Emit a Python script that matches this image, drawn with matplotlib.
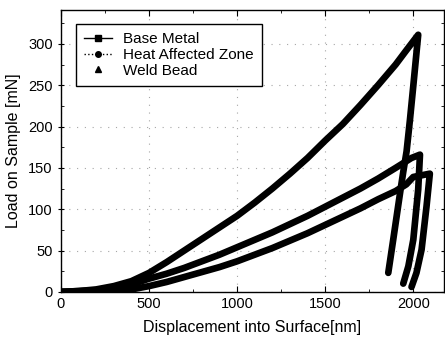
import matplotlib
matplotlib.use("Agg")
import matplotlib.pyplot as plt
from matplotlib.lines import Line2D
from matplotlib.ticker import MultipleLocator

plt.rcParams['font.family'] = ['Liberation Sans', 'DejaVu Sans']

# Base Metal: loading, unloading
base_x = [0, 100, 200, 300, 400, 500, 600, 700, 800, 900, 1000, 1100, 1200, 1300, 1400, 1500,
          1600, 1700, 1800, 1900, 1960, 2028,
          2000, 1981, 1962, 1943, 1928, 1886, 1858]
base_y = [0, 1, 3, 7, 13, 23, 36, 50, 64, 78, 92, 108, 125, 143, 162, 183,
          203, 226, 250, 275, 292, 311,
          249, 208, 170, 145, 124, 63, 23]

# Heat Affected Zone: loading, hold, unloading
haz_x = [0, 200, 300, 400, 500, 600, 700, 800, 900, 1000, 1100, 1200, 1300, 1400, 1500,
         1600, 1700, 1800, 1900, 1990,
         2038, 2028, 2000, 1972, 1943]
haz_y = [0, 2, 4, 9, 16, 22, 29, 37, 45, 54, 63, 72, 82, 92, 103,
         114, 125, 137, 150, 162,
         166, 124, 63, 31, 10]

# Weld Bead: loading, hold, unloading
weld_x = [0, 200, 300, 400, 500, 600, 700, 800, 900, 1000, 1100, 1200, 1300, 1400, 1500,
          1600, 1700, 1800, 1900, 1960, 2000,
          2094, 2075, 2047, 2018, 1990]
weld_y = [0, 0, 1, 3, 7, 12, 18, 24, 30, 37, 45, 53, 62, 71, 81,
          91, 101, 112, 122, 130, 139,
          143, 103, 51, 23, 6]

series_names = ["Base Metal", "Heat Affected Zone", "Weld Bead"]

fig = plt.figure(figsize=(4.45, 3.43), dpi=100)
ax = fig.add_axes([0.137, 0.149, 0.861, 0.822])

for xs, ys in [(base_x, base_y), (haz_x, haz_y), (weld_x, weld_y)]:
    ax.plot(xs, ys, color='black', lw=4.8, solid_joinstyle='round', solid_capstyle='round')

ax.set_xlim(0, 2175)
ax.set_ylim(0, 341)
ax.xaxis.set_major_locator(MultipleLocator(500))
ax.xaxis.set_minor_locator(MultipleLocator(250))
ax.yaxis.set_major_locator(MultipleLocator(50))
ax.yaxis.set_minor_locator(MultipleLocator(25))
ax.tick_params(which='both', direction='in', top=True, right=True, labelsize=10.5)
ax.tick_params(axis='y', which='major', direction='inout', length=5)
ax.tick_params(axis='x', which='major', length=4)
ax.tick_params(which='minor', length=2.5)
ax.grid(True, which='major', linestyle=(0, (1, 6)), color='0.65', lw=0.8)
for s in ax.spines.values():
    s.set_linewidth(1.0)

ax.set_xlabel("Displacement into Surface[nm]", fontsize=11.5, labelpad=7)
ax.set_ylabel("Load on Sample [mN]", fontsize=11.5, labelpad=5)

handles = [
    Line2D([], [], color='black', ls='-', marker='s', ms=4, lw=1.0),
    Line2D([], [], color='black', ls=':', marker='o', ms=4, lw=1.0),
    Line2D([], [], color='black', ls='none', marker='^', ms=4),
]
leg = ax.legend(handles, series_names, loc='upper left', bbox_to_anchor=(0.039, 0.95),
                borderaxespad=0, fontsize=11, fancybox=False, framealpha=1,
                edgecolor='black', handlelength=1.8, handletextpad=0.7,
                labelspacing=0.1, borderpad=0.55)
leg.get_frame().set_linewidth(1.0)

fig.savefig("out.png", dpi=100)
